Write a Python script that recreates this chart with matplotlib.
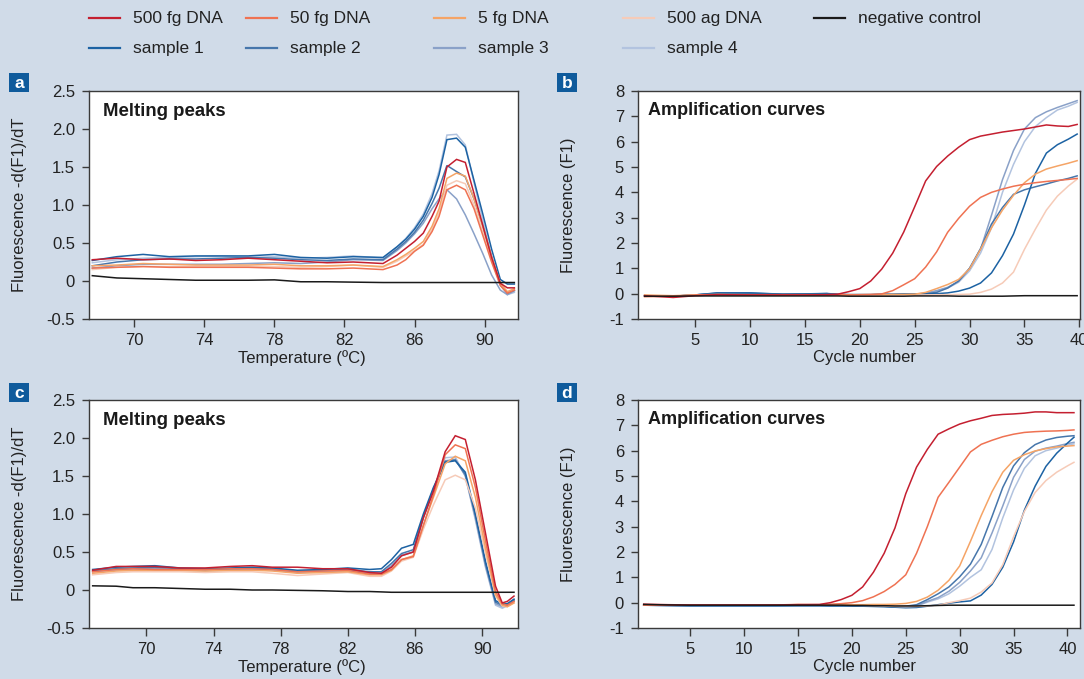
import matplotlib.pyplot as plt
from matplotlib.lines import Line2D
from matplotlib.patches import Rectangle

plt.rcParams['font.family'] = ['Liberation Sans', 'DejaVu Sans']
plt.rcParams['axes.unicode_minus'] = False

# ---------------- data ----------------
labels = ['500 fg DNA', '50 fg DNA', '5 fg DNA', '500 ag DNA', 'negative control',
          'sample 1', 'sample 2', 'sample 3', 'sample 4']
colors = ['#c41f30', '#ef7252', '#f5a466', '#f6cbb8', '#1a1a1a',
          '#1c62a3', '#4676ab', '#8aa1c8', '#b2c3df']

# panel a: melting peaks
temp_a = [67.6, 69.0, 70.5, 72.0, 73.5, 75.0, 76.5, 78.0, 79.5, 81.0, 82.5, 84.2, 85.0, 85.5,
          86.0, 86.5, 87.0, 87.4, 87.85, 88.4, 88.9, 89.4, 89.9, 90.4, 90.9, 91.3, 91.7]
a_500fg = [0.28, 0.30, 0.28, 0.29, 0.27, 0.28, 0.30, 0.28, 0.26, 0.24, 0.25, 0.23, 0.34, 0.43,
           0.52, 0.63, 0.85, 1.05, 1.50, 1.60, 1.56, 1.15, 0.73, 0.31, -0.03, -0.09, -0.09]
a_50fg = [0.17, 0.18, 0.19, 0.18, 0.18, 0.18, 0.18, 0.17, 0.16, 0.16, 0.17, 0.15, 0.21, 0.28,
          0.39, 0.47, 0.65, 0.85, 1.20, 1.26, 1.20, 0.95, 0.60, 0.25, -0.06, -0.16, -0.12]
a_5fg = [0.20, 0.21, 0.23, 0.22, 0.21, 0.21, 0.21, 0.22, 0.20, 0.20, 0.21, 0.19, 0.28, 0.35,
         0.43, 0.52, 0.72, 0.95, 1.35, 1.42, 1.38, 1.08, 0.72, 0.32, -0.03, -0.14, -0.10]
a_500ag = [0.15, 0.18, 0.19, 0.19, 0.19, 0.19, 0.19, 0.19, 0.18, 0.19, 0.21, 0.18, 0.26, 0.33,
           0.40, 0.48, 0.68, 0.90, 1.26, 1.32, 1.28, 1.00, 0.65, 0.28, -0.05, -0.15, -0.11]
a_neg = [0.07, 0.04, 0.03, 0.02, 0.01, 0.01, 0.01, 0.015, -0.01, -0.01, -0.015, -0.02, -0.02, -0.02,
         -0.02, -0.02, -0.02, -0.02, -0.02, -0.02, -0.02, -0.02, -0.02, -0.02, -0.02, -0.02, -0.02]
a_s1 = [0.27, 0.32, 0.35, 0.32, 0.33, 0.33, 0.33, 0.35, 0.31, 0.30, 0.32, 0.31, 0.45, 0.55,
        0.68, 0.85, 1.10, 1.40, 1.86, 1.88, 1.76, 1.32, 0.88, 0.42, 0.02, -0.04, -0.04]
a_s2 = [0.20, 0.25, 0.28, 0.29, 0.29, 0.30, 0.31, 0.30, 0.28, 0.27, 0.29, 0.28, 0.42, 0.52,
        0.64, 0.80, 1.02, 1.22, 1.52, 1.44, 1.37, 1.08, 0.72, 0.32, -0.05, -0.16, -0.12]
a_s3 = [0.17, 0.20, 0.22, 0.22, 0.22, 0.22, 0.23, 0.24, 0.23, 0.25, 0.28, 0.27, 0.40, 0.50,
        0.62, 0.76, 0.95, 1.08, 1.20, 1.08, 0.87, 0.62, 0.36, 0.08, -0.12, -0.18, -0.13]
a_s4 = [0.24, 0.28, 0.30, 0.31, 0.32, 0.33, 0.31, 0.32, 0.30, 0.31, 0.33, 0.30, 0.45, 0.56,
        0.70, 0.88, 1.15, 1.45, 1.92, 1.93, 1.79, 1.29, 0.80, 0.32, -0.05, -0.18, -0.15]

# panel b: amplification curves
cycle_b = [0.4, 3, 5, 7, 10, 13, 15, 17, 18, 19, 20, 21, 22, 23, 24, 25, 26, 27, 28, 29,
           30, 31, 32, 33, 34, 35, 36, 37, 38, 39, 39.8]
b_500fg = [-0.08, -0.15, -0.08, -0.04, -0.05, -0.05, -0.05, -0.04, -0.02, 0.08, 0.20, 0.50,
           0.97, 1.60, 2.43, 3.43, 4.45, 5.02, 5.43, 5.78, 6.08, 6.22, 6.30, 6.38, 6.44, 6.50,
           6.58, 6.66, 6.62, 6.60, 6.68]
b_50fg = [-0.12, -0.10, -0.06, -0.04, -0.05, -0.05, -0.05, -0.05, -0.05, -0.05, -0.04, -0.03,
          -0.01, 0.12, 0.35, 0.59, 1.05, 1.65, 2.42, 2.97, 3.45, 3.80, 4.00, 4.13, 4.24, 4.32,
          4.38, 4.43, 4.47, 4.51, 4.55]
b_5fg = [-0.05, -0.08, -0.05, -0.03, -0.04, -0.04, -0.04, -0.04, -0.04, -0.04, -0.04, -0.04,
         -0.04, -0.03, -0.03, -0.02, 0.05, 0.20, 0.36, 0.56, 0.98, 1.75, 2.60, 3.30, 3.88, 4.38,
         4.72, 4.92, 5.04, 5.15, 5.25]
b_500ag = [-0.10, -0.10, -0.06, -0.05, -0.05, -0.05, -0.05, -0.05, -0.05, -0.05, -0.05, -0.05,
           -0.05, -0.05, -0.05, -0.05, -0.05, -0.04, -0.04, -0.03, -0.02, 0.05, 0.18, 0.42, 0.85,
           1.75, 2.55, 3.30, 3.85, 4.25, 4.52]
b_neg = [-0.10, -0.10, -0.09, -0.09, -0.09, -0.09, -0.09, -0.09, -0.09, -0.10, -0.10, -0.10,
         -0.10, -0.10, -0.10, -0.09, -0.09, -0.09, -0.09, -0.10, -0.10, -0.10, -0.10, -0.10,
         -0.09, -0.08, -0.08, -0.08, -0.08, -0.08, -0.08]
b_s1 = [-0.08, -0.10, -0.05, 0.03, 0.03, -0.02, -0.01, 0.00, -0.03, -0.04, -0.04, -0.04, -0.03,
        -0.03, -0.02, -0.02, -0.01, 0.00, 0.03, 0.10, 0.22, 0.42, 0.82, 1.50, 2.35, 3.50, 4.75,
        5.55, 5.88, 6.10, 6.30]
b_s2 = [-0.08, -0.10, -0.05, 0.02, 0.02, -0.02, -0.01, 0.01, -0.03, -0.04, -0.04, -0.04, -0.03,
        -0.03, -0.02, -0.02, 0.00, 0.05, 0.22, 0.50, 1.00, 1.78, 2.75, 3.40, 3.92, 4.10, 4.22,
        4.33, 4.45, 4.55, 4.65]
b_s3 = [-0.08, -0.10, -0.05, 0.01, 0.01, -0.03, -0.02, 0.00, -0.03, -0.04, -0.04, -0.04, -0.03,
        -0.03, -0.02, -0.02, 0.02, 0.12, 0.25, 0.48, 1.00, 1.75, 3.10, 4.50, 5.65, 6.50, 6.95,
        7.18, 7.35, 7.50, 7.62]
b_s4 = [-0.08, -0.10, -0.05, 0.00, 0.00, -0.03, -0.02, -0.01, -0.03, -0.04, -0.04, -0.04, -0.03,
        -0.03, -0.02, -0.02, 0.02, 0.10, 0.22, 0.45, 0.90, 1.60, 2.60, 4.00, 5.10, 6.00, 6.60,
        6.95, 7.25, 7.40, 7.55]

# panel c: melting peaks
temp_c = [66.8, 68.2, 69.2, 70.5, 72.0, 73.5, 75.0, 76.3, 77.5, 79.0, 80.5, 82.0, 83.3, 84.0,
          84.6, 85.2, 85.9, 86.5, 87.1, 87.8, 88.4, 89.0, 89.6, 90.2, 90.8, 91.2, 91.5, 91.9]
c_500fg = [0.26, 0.31, 0.31, 0.31, 0.29, 0.29, 0.31, 0.32, 0.30, 0.30, 0.28, 0.28, 0.23, 0.22,
           0.30, 0.45, 0.50, 0.95, 1.30, 1.82, 2.03, 1.98, 1.45, 0.75, 0.05, -0.17, -0.15, -0.08]
c_50fg = [0.24, 0.27, 0.28, 0.27, 0.27, 0.27, 0.28, 0.28, 0.27, 0.24, 0.25, 0.26, 0.21, 0.21,
          0.27, 0.40, 0.44, 0.85, 1.25, 1.78, 1.91, 1.86, 1.35, 0.65, -0.02, -0.18, -0.20, -0.15]
c_5fg = [0.22, 0.25, 0.26, 0.26, 0.26, 0.25, 0.26, 0.26, 0.25, 0.22, 0.23, 0.24, 0.20, 0.20,
         0.26, 0.40, 0.45, 0.85, 1.22, 1.66, 1.76, 1.70, 1.22, 0.55, -0.06, -0.20, -0.22, -0.17]
c_500ag = [0.20, 0.23, 0.24, 0.24, 0.24, 0.23, 0.24, 0.24, 0.22, 0.19, 0.21, 0.23, 0.18, 0.18,
           0.25, 0.38, 0.43, 0.80, 1.12, 1.45, 1.51, 1.45, 1.08, 0.48, -0.08, -0.21, -0.22, -0.17]
c_neg = [0.055, 0.05, 0.03, 0.03, 0.02, 0.01, 0.01, 0.0, 0.0, -0.005, -0.01, -0.02, -0.02, -0.025,
         -0.03, -0.03, -0.03, -0.03, -0.03, -0.03, -0.03, -0.03, -0.03, -0.03, -0.03, -0.03, -0.03, -0.03]
c_s1 = [0.27, 0.30, 0.31, 0.32, 0.29, 0.28, 0.29, 0.30, 0.29, 0.26, 0.27, 0.29, 0.27, 0.28,
        0.40, 0.55, 0.60, 1.00, 1.35, 1.68, 1.70, 1.55, 1.00, 0.38, -0.14, -0.18, -0.18, -0.12]
c_s2 = [0.25, 0.28, 0.29, 0.30, 0.28, 0.27, 0.28, 0.29, 0.28, 0.25, 0.26, 0.27, 0.24, 0.24,
        0.35, 0.48, 0.53, 0.97, 1.33, 1.69, 1.71, 1.52, 0.98, 0.35, -0.16, -0.20, -0.19, -0.13]
c_s3 = [0.25, 0.27, 0.28, 0.28, 0.27, 0.26, 0.27, 0.28, 0.27, 0.24, 0.25, 0.26, 0.22, 0.22,
        0.32, 0.46, 0.50, 0.95, 1.32, 1.70, 1.72, 1.50, 0.95, 0.32, -0.18, -0.22, -0.20, -0.14]
c_s4 = [0.24, 0.26, 0.27, 0.27, 0.26, 0.25, 0.26, 0.27, 0.26, 0.23, 0.24, 0.25, 0.21, 0.21,
        0.31, 0.45, 0.50, 0.95, 1.33, 1.74, 1.75, 1.50, 0.92, 0.30, -0.20, -0.24, -0.21, -0.15]

# panel d: amplification curves
cycle_d = [0.7, 3, 5, 7, 10, 13, 15, 17, 18, 19, 20, 21, 22, 23, 24, 25, 26, 27, 28, 29,
           30, 31, 32, 33, 34, 35, 36, 37, 38, 39, 40, 40.6]
d_500fg = [-0.06, -0.08, -0.09, -0.09, -0.09, -0.09, -0.08, -0.07, 0.00, 0.12, 0.29, 0.62, 1.20,
           1.95, 2.95, 4.30, 5.35, 6.05, 6.65, 6.86, 7.05, 7.18, 7.28, 7.39, 7.43, 7.45, 7.48,
           7.53, 7.53, 7.50, 7.50, 7.50]
d_50fg = [-0.10, -0.10, -0.10, -0.10, -0.10, -0.09, -0.07, -0.08, -0.06, -0.04, 0.00, 0.08, 0.23,
          0.44, 0.72, 1.10, 1.95, 3.00, 4.16, 4.75, 5.35, 5.95, 6.25, 6.41, 6.55, 6.65, 6.72,
          6.75, 6.77, 6.78, 6.80, 6.82]
d_5fg = [-0.08, -0.10, -0.10, -0.10, -0.10, -0.09, -0.08, -0.09, -0.09, -0.09, -0.08, -0.08, -0.07,
         -0.07, -0.06, -0.03, 0.05, 0.22, 0.49, 0.88, 1.45, 2.42, 3.44, 4.38, 5.15, 5.62, 5.84,
         5.99, 6.08, 6.15, 6.18, 6.20]
d_500ag = [-0.10, -0.10, -0.10, -0.10, -0.10, -0.10, -0.09, -0.10, -0.10, -0.10, -0.10, -0.11,
           -0.12, -0.13, -0.15, -0.16, -0.15, -0.13, -0.10, 0.00, 0.08, 0.18, 0.42, 0.78, 1.50,
           2.60, 3.60, 4.35, 4.82, 5.15, 5.40, 5.54]
d_neg = [-0.07, -0.09, -0.10, -0.10, -0.10, -0.10, -0.10, -0.10, -0.10, -0.10, -0.11, -0.11,
         -0.12, -0.12, -0.13, -0.13, -0.13, -0.12, -0.11, -0.10, -0.10, -0.10, -0.10, -0.10,
         -0.10, -0.10, -0.10, -0.10, -0.10, -0.10, -0.10, -0.10]
d_s1 = [-0.10, -0.11, -0.12, -0.12, -0.12, -0.12, -0.12, -0.12, -0.13, -0.13, -0.13, -0.14, -0.15,
        -0.16, -0.18, -0.20, -0.19, -0.14, -0.08, -0.02, 0.03, 0.07, 0.30, 0.72, 1.40, 2.40,
        3.65, 4.60, 5.38, 5.90, 6.30, 6.53]
d_s2 = [-0.10, -0.11, -0.12, -0.12, -0.12, -0.12, -0.11, -0.11, -0.11, -0.11, -0.11, -0.11, -0.12,
        -0.13, -0.15, -0.14, -0.08, 0.12, 0.35, 0.62, 1.02, 1.52, 2.30, 3.40, 4.55, 5.40, 5.92,
        6.24, 6.42, 6.52, 6.57, 6.59]
d_s3 = [-0.10, -0.11, -0.12, -0.12, -0.12, -0.12, -0.11, -0.11, -0.11, -0.11, -0.11, -0.12, -0.13,
        -0.14, -0.16, -0.17, -0.12, 0.05, 0.20, 0.45, 0.80, 1.25, 1.77, 2.75, 3.82, 4.95, 5.65,
        5.98, 6.10, 6.18, 6.28, 6.33]
d_s4 = [-0.10, -0.11, -0.12, -0.12, -0.12, -0.12, -0.12, -0.12, -0.12, -0.12, -0.12, -0.13, -0.14,
        -0.15, -0.17, -0.18, -0.14, 0.02, 0.15, 0.35, 0.65, 1.00, 1.30, 2.10, 3.35, 4.45, 5.30,
        5.80, 6.00, 6.10, 6.22, 6.27]

melt_ticks = [70, 74, 78, 82, 86, 90]
melt_yticks = [-0.5, 0, 0.5, 1.0, 1.5, 2.0, 2.5]
melt_ylabels = ['-0.5', '0', '0.5', '1.0', '1.5', '2.0', '2.5']
amp_ticks = [5, 10, 15, 20, 25, 30, 35, 40]
amp_yticks = list(range(-1, 9))

# ---------------- figure ----------------
W, H = 1084, 679
BG = '#d0dbe8'
INK = '#222222'
fig = plt.figure(figsize=(W / 100, H / 100), dpi=100, facecolor=BG)


def px_axes(x0, x1, y0, y1):
    return fig.add_axes([x0 / W, 1 - y1 / H, (x1 - x0) / W, (y1 - y0) / H])


ax_a = px_axes(88.8, 518.2, 91, 319)
ax_b = px_axes(637.8, 1080, 91, 319)
ax_c = px_axes(88.8, 518.2, 400, 628)
ax_d = px_axes(637.8, 1080, 400, 628)

order = [8, 7, 6, 5, 3, 2, 1, 0, 4]   # draw samples first, standards on top
panels = [
    (ax_a, temp_a, [a_500fg, a_50fg, a_5fg, a_500ag, a_neg, a_s1, a_s2, a_s3, a_s4]),
    (ax_b, cycle_b, [b_500fg, b_50fg, b_5fg, b_500ag, b_neg, b_s1, b_s2, b_s3, b_s4]),
    (ax_c, temp_c, [c_500fg, c_50fg, c_5fg, c_500ag, c_neg, c_s1, c_s2, c_s3, c_s4]),
    (ax_d, cycle_d, [d_500fg, d_50fg, d_5fg, d_500ag, d_neg, d_s1, d_s2, d_s3, d_s4]),
]
for ax, xs, series in panels:
    for i in order:
        ax.plot(xs, series[i], color=colors[i], lw=1.1, solid_joinstyle='miter')

for ax, xl in [(ax_a, (67.4, 91.92)), (ax_c, (66.57, 92.15))]:
    ax.set_xlim(*xl)
    ax.set_ylim(-0.5, 2.5)
    ax.set_xticks(melt_ticks)
    ax.set_yticks(melt_yticks)
    ax.set_yticklabels(melt_ylabels)
    ax.set_xlabel('Temperature (ºC)', fontsize=12, color=INK)
    ax.set_ylabel('Fluorescence -d(F1)/dT', fontsize=12, color=INK)
    ax.xaxis.set_label_coords(0.496, -0.136)
    ax.yaxis.set_label_coords(-0.143, 0.5)
    ax.text(0.034, 0.912, 'Melting peaks', transform=ax.transAxes, fontsize=13.4,
            fontweight='bold', color='#1a1a1a', va='center', ha='left')

for ax, xl in [(ax_b, (-0.22, 40.06)), (ax_d, (0.15, 41.16))]:
    ax.set_xlim(*xl)
    ax.set_ylim(-1, 8)
    ax.set_xticks(amp_ticks)
    ax.set_yticks(amp_yticks)
    ax.set_xlabel('Cycle number', fontsize=12, color=INK)
    ax.set_ylabel('Fluorescence (F1)', fontsize=12, color=INK)
    ax.xaxis.set_label_coords(0.512, -0.136)
    ax.yaxis.set_label_coords(-0.139, 0.5)
    ax.text(0.023, 0.915, 'Amplification curves', transform=ax.transAxes, fontsize=13,
            fontweight='bold', color='#1a1a1a', va='center', ha='left')

for ax in [ax_a, ax_b, ax_c, ax_d]:
    ax.set_facecolor('white')
    for sp in ax.spines.values():
        sp.set_color('#3a3a3a')
        sp.set_linewidth(1.0)
    ax.tick_params(direction='out', length=5.4, width=1.0, color='#3a3a3a',
                   labelsize=12, labelcolor=INK, pad=4.5)

# panel letters
for letter, (x0, y0) in zip('abcd', [(9, 73), (557, 73), (9, 383), (557, 383)]):
    fig.patches.append(Rectangle((x0 / W, 1 - (y0 + 19) / H), 20 / W, 19 / H,
                                 transform=fig.transFigure, facecolor='#0f5b9c',
                                 edgecolor='none'))
    fig.text((x0 + 10) / W, 1 - (y0 + 10) / H, letter, color='white', fontsize=12.5,
             fontweight='bold', ha='center', va='center')

# legend (two rows, hand placed)
leg_x = [88.7, 245.7, 434.0, 623.3, 814.4]
leg_rows = [17.5, 47.5]
leg_pos = [(0, 0), (1, 0), (2, 0), (3, 0), (4, 0), (0, 1), (1, 1), (2, 1), (3, 1)]
for i, (col, row) in enumerate(leg_pos):
    x0 = leg_x[col]
    y = 1 - leg_rows[row] / H
    fig.add_artist(Line2D([x0 / W, (x0 + 31) / W], [y, y], color=colors[i], lw=1.6,
                          transform=fig.transFigure))
    fig.text((x0 + 44) / W, 1 - (leg_rows[row] + 1.5) / H, labels[i], fontsize=12.5,
             color=INK, ha='left', va='center')

fig.savefig('out.png', dpi=100, facecolor=BG)
